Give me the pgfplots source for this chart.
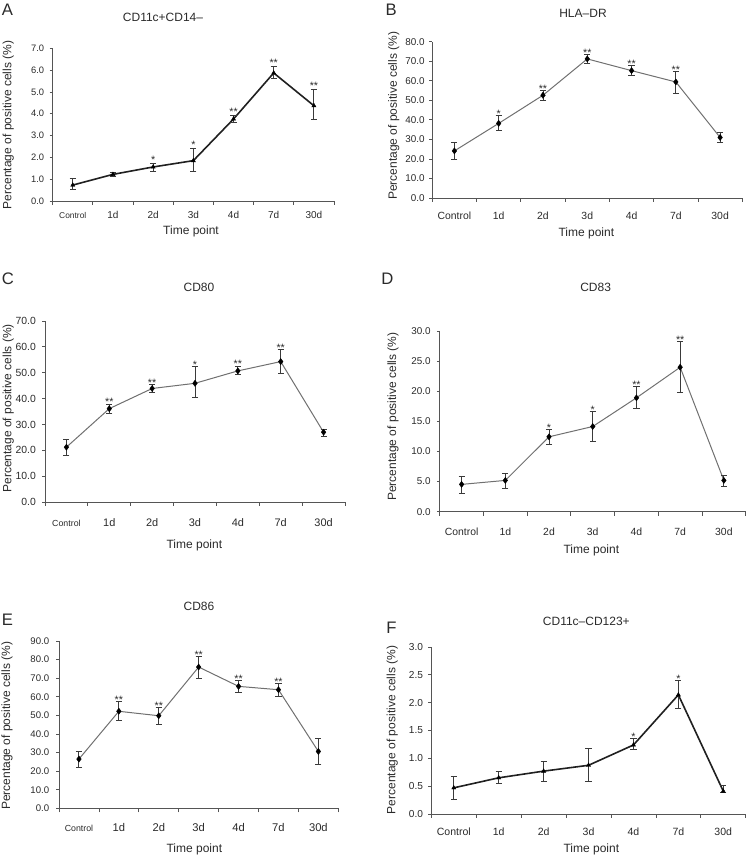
\documentclass[border=0pt]{standalone}
\usepackage{fontspec}
\setmainfont{Liberation Sans}
\usepackage{pgfplots}
\pgfplotsset{compat=1.18}
\definecolor{axgray}{HTML}{555555}
\definecolor{txt}{HTML}{2A2A2A}
\definecolor{lgray}{HTML}{707070}
\definecolor{ebar}{HTML}{3A3A3A}
\definecolor{dline}{HTML}{202020}
\newcommand{\fs}[1]{\fontsize{#1}{#1}\selectfont}
\pgfplotsset{
  panel/.style={
    scale only axis,
    anchor=south west,
    axis x line*=bottom, axis y line*=left,
    axis line style={axgray, line width=0.6pt, -},
    xmin=-0.5, xmax=6.5, ymin=0,
    xtick={0,...,6},
    minor xtick={-0.5,0.5,...,6.5},
    major x tick style={draw=none},
    minor tick length=3pt,
    major tick length=2.2pt,
    tick align=outside,
    tick style={axgray, line width=0.6pt},
    /pgf/number format/assume math mode=true,
    yticklabel style={/pgf/number format/fixed, /pgf/number format/fixed zerofill, /pgf/number format/precision=1},
    clip=false,
  },
  grayser/.style={color=lgray, line width=0.75pt, mark=diamond*, mark size=2.3pt,
    mark options={fill=black, draw=black, line width=0.3pt},
    error bars/.cd, y dir=both, y explicit,
    error bar style={ebar, line width=0.7pt},
    error mark options={rotate=90, ebar, line width=0.7pt, mark size=2.3pt}},
  darkser/.style={color=dline, line width=1.2pt, mark=triangle*, mark size=1.8pt,
    mark options={fill=black, draw=black, line width=0.3pt},
    error bars/.cd, y dir=both, y explicit,
    error bar style={ebar, line width=0.7pt},
    error mark options={rotate=90, ebar, line width=0.7pt, mark size=2.3pt}},
}
\tikzset{
  star/.style={font=\fs{8}, text=txt, anchor=base, inner sep=0pt, yshift=-1.5pt},
  starA/.style={font=\fs{8}, text=txt, anchor=base, inner sep=0pt, yshift=0pt},
  ttl/.style={font=\fs{9}, text=txt},
  ylab/.style={font=\fs{9}, text=txt, rotate=90},
  xlab/.style={font=\fs{9}, text=txt},
  let/.style={font=\fs{12.5}, text=txt, anchor=west, inner sep=0pt},
}
\begin{document}
\begin{tikzpicture}
\path[use as bounding box] (0,0) rectangle (560.25pt,642.75pt);

% ---------------- A ----------------
\begin{axis}[panel, at={(39.5pt,492pt)}, width=211pt, height=114.5pt,
  ymax=7, ytick distance=1,
  xticklabels={{\fs{6.3}Control},1d,2d,3d,4d,7d,30d},
  xticklabel style={font=\fs{7.5}, text=txt, anchor=base, inner sep=0pt, yshift=-10.9pt},
  yticklabel style={font=\fs{7}, text=txt, anchor=east, inner sep=0pt, xshift=-4pt}]
\addplot+[darkser] coordinates {
 (0,0.73) += (0,0.29) -= (0,0.21)
 (1,1.22) += (0,0.09) -= (0,0.10)
 (2,1.56) += (0,0.15) -= (0,0.20)
 (3,1.85) += (0,0.57) -= (0,0.49)
 (4,3.76) += (0,0.14) -= (0,0.15)
 (5,5.87) += (0,0.29) -= (0,0.24)
 (6,4.37) += (0,0.74) -= (0,0.65)
};
\node[starA] at (axis cs:2,1.71) {*};
\node[starA] at (axis cs:3,2.42) {*};
\node[starA] at (axis cs:4,3.90) {**};
\node[starA] at (axis cs:5,6.16) {**};
\node[starA] at (axis cs:6,5.11) {**};
\end{axis}

% ---------------- B ----------------
\begin{axis}[panel, at={(324.2pt,494.25pt)}, width=232.5pt, height=117.2pt,
  ymax=80, ytick distance=10,
  xticklabels={Control,1d,2d,3d,4d,7d,30d},
  xticklabel style={font=\fs{7.8}, text=txt, anchor=base, inner sep=0pt, yshift=-14.3pt},
  yticklabel style={font=\fs{7.4}, text=txt, anchor=east, inner sep=0pt, xshift=-3.3pt}]
\addplot+[grayser] coordinates {
 (0,24.1) += (0,4.2) -= (0,4.3)
 (1,38.2) += (0,3.9) -= (0,3.4)
 (2,52.6) += (0,2.5) -= (0,2.6)
 (3,71.2) += (0,2.2) -= (0,2.4)
 (4,65.2) += (0,2.5) -= (0,2.4)
 (5,59.4) += (0,5.3) -= (0,5.8)
 (6,31.0) += (0,2.7) -= (0,2.4)
};
\node[star] at (axis cs:1,42.1) {*};
\node[star] at (axis cs:2,55.1) {**};
\node[star] at (axis cs:3,73.4) {**};
\node[star] at (axis cs:4,67.7) {**};
\node[star] at (axis cs:5,64.7) {**};
\end{axis}

% ---------------- C ----------------
\begin{axis}[panel, at={(33.75pt,266.25pt)}, width=225pt, height=135.75pt,
  ymax=70, ytick distance=10,
  xticklabels={{\fs{6.6}Control},1d,2d,3d,4d,7d,30d},
  xticklabel style={font=\fs{8.2}, text=txt, anchor=base, inner sep=0pt, yshift=-16.4pt},
  yticklabel style={font=\fs{7.8}, text=txt, anchor=east, inner sep=0pt, xshift=-4.5pt}]
\addplot+[grayser] coordinates {
 (0,21.2) += (0,2.9) -= (0,3.3)
 (1,36.1) += (0,1.8) -= (0,1.8)
 (2,43.9) += (0,1.5) -= (0,1.4)
 (3,45.9) += (0,6.5) -= (0,5.6)
 (4,50.7) += (0,1.9) -= (0,1.4)
 (5,54.3) += (0,4.7) -= (0,4.6)
 (6,27.0) += (0,1.0) -= (0,1.6)
};
\node[star] at (axis cs:1,37.9) {**};
\node[star] at (axis cs:2,45.4) {**};
\node[star] at (axis cs:3,52.4) {*};
\node[star] at (axis cs:4,52.6) {**};
\node[star] at (axis cs:5,59.0) {**};
\end{axis}

% ---------------- D ----------------
\begin{axis}[panel, at={(329.8pt,259pt)}, width=229.5pt, height=135.5pt,
  ymax=30, ytick distance=5,
  xticklabels={Control,1d,2d,3d,4d,7d,30d},
  xticklabel style={font=\fs{7.8}, text=txt, anchor=base, inner sep=0pt, yshift=-16pt},
  yticklabel style={font=\fs{7.4}, text=txt, anchor=east, inner sep=0pt, xshift=-4.5pt}]
\addplot+[grayser] coordinates {
 (0,4.53) += (0,1.33) -= (0,1.49)
 (1,5.19) += (0,1.22) -= (0,1.27)
 (2,12.43) += (0,1.22) -= (0,1.27)
 (3,14.14) += (0,2.43) -= (0,2.43)
 (4,18.90) += (0,1.87) -= (0,1.83)
 (5,23.98) += (0,4.20) -= (0,4.26)
 (6,5.19) += (0,0.83) -= (0,0.94)
};
\node[star] at (axis cs:2,13.65) {*};
\node[star] at (axis cs:3,16.57) {*};
\node[star] at (axis cs:4,20.77) {**};
\node[star] at (axis cs:5,28.18) {**};
\end{axis}

% ---------------- E ----------------
\begin{axis}[panel, at={(44.25pt,36.5pt)}, width=209.5pt, height=125.5pt,
  ymax=90, ytick distance=10,
  xticklabels={{\fs{6.6}Control},1d,2d,3d,4d,7d,30d},
  xticklabel style={font=\fs{8.4}, text=txt, anchor=base, inner sep=0pt, yshift=-15pt},
  yticklabel style={font=\fs{7.2}, text=txt, anchor=east, inner sep=0pt, xshift=-5pt}]
\addplot+[grayser] coordinates {
 (0,26.5) += (0,4.3) -= (0,4.3)
 (1,52.2) += (0,5.1) -= (0,4.9)
 (2,49.8) += (0,4.3) -= (0,4.6)
 (3,76.0) += (0,5.5) -= (0,5.9)
 (4,65.6) += (0,3.2) -= (0,3.4)
 (5,63.8) += (0,3.6) -= (0,3.4)
 (6,30.6) += (0,7.0) -= (0,6.9)
};
\node[star] at (axis cs:1,57.3) {**};
\node[star] at (axis cs:2,54.1) {**};
\node[star] at (axis cs:3,81.5) {**};
\node[star] at (axis cs:4,68.8) {**};
\node[star] at (axis cs:5,67.4) {**};
\end{axis}

% ---------------- F ----------------
\begin{axis}[panel, at={(323.5pt,32.25pt)}, width=235.8pt, height=125.25pt,
  ymax=3, ytick distance=0.5,
  xticklabels={Control,1d,2d,3d,4d,7d,30d},
  xticklabel style={font=\fs{7.9}, text=txt, anchor=base, inner sep=0pt, yshift=-13.6pt},
  yticklabel style={font=\fs{7.6}, text=txt, anchor=east, inner sep=0pt, xshift=-3.8pt}]
\addplot+[darkser] coordinates {
 (0,0.47) += (0,0.21) -= (0,0.20)
 (1,0.65) += (0,0.12) -= (0,0.11)
 (2,0.77) += (0,0.18) -= (0,0.18)
 (3,0.875) += (0,0.305) -= (0,0.285)
 (4,1.24) += (0,0.11) -= (0,0.08)
 (5,2.14) += (0,0.25) -= (0,0.24)
 (6,0.41) += (0,0.10) -= (0,0.03)
};
\node[star] at (axis cs:4,1.35) {*};
\node[star] at (axis cs:5,2.39) {*};
\end{axis}

% ---------------- text ----------------
\node[let] at (1.2pt,635.25pt) {A};
\node[let] at (289pt,635.25pt) {B};
\node[let] at (1.2pt,433.5pt) {C};
\node[let] at (285.75pt,433.5pt) {D};
\node[let] at (1.2pt,178.1pt) {E};
\node[let] at (289.5pt,171.75pt) {F};

\node[ttl] at (122.25pt,630pt) {CD11c+CD14–};
\node[ttl] at (437.25pt,632.75pt) {HLA–DR};
\node[ttl] at (149.25pt,427.25pt) {CD80};
\node[ttl] at (446.75pt,427.25pt) {CD83};
\node[ttl] at (149.25pt,187.75pt) {CD86};
\node[ttl] at (439.75pt,177pt) {CD11c–CD123+};

\node[ylab] at (6.25pt,549pt) {Percentage of positive cells (\%)};
\node[ylab] at (295.3pt,555.9pt) {Percentage of positive cells (\%)};
\node[ylab] at (6.25pt,336.5pt) {Percentage of positive cells (\%)};
\node[ylab] at (294.75pt,330.25pt) {Percentage of positive cells (\%)};
\node[ylab] at (5.2pt,98.4pt) {Percentage of positive cells (\%)};
\node[ylab] at (294.25pt,95.25pt) {Percentage of positive cells (\%)};

\node[xlab] at (143.25pt,469pt) {Time point};
\node[xlab] at (439.75pt,467.75pt) {Time point};
\node[xlab] at (145.75pt,234pt) {Time point};
\node[xlab] at (443.5pt,229.75pt) {Time point};
\node[xlab] at (145.75pt,5.5pt) {Time point};
\node[xlab] at (443.5pt,5.5pt) {Time point};
\end{tikzpicture}
\end{document}
